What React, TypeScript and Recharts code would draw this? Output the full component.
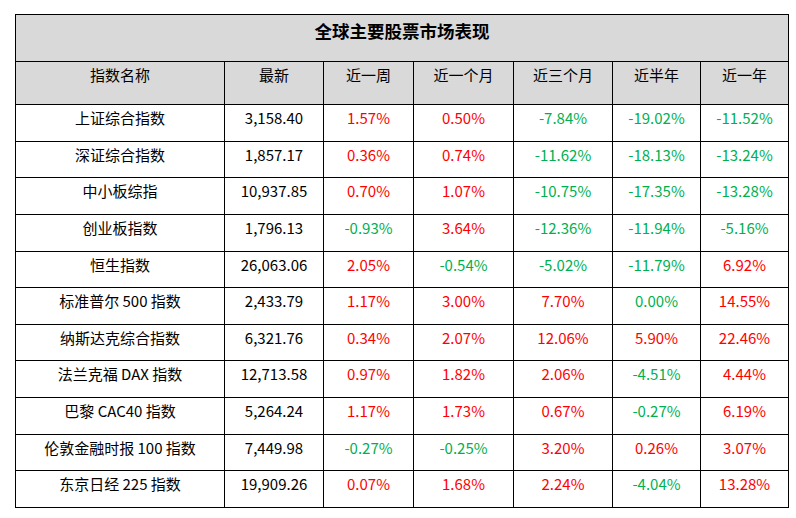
import { ScatterChart, Scatter, XAxis, YAxis } from 'recharts';

const title = '全球主要股票市场表现';
const headers = ['指数名称', '最新', '近一周', '近一个月', '近三个月', '近半年', '近一年'];
const names = [
  '上证综合指数',
  '深证综合指数',
  '中小板综指',
  '创业板指数',
  '恒生指数',
  '标准普尔 500 指数',
  '纳斯达克综合指数',
  '法兰克福 DAX 指数',
  '巴黎 CAC40 指数',
  '伦敦金融时报 100 指数',
  '东京日经 225 指数'
];
const latest = [3158.4, 1857.17, 10937.85, 1796.13, 26063.06, 2433.79, 6321.76, 12713.58, 5264.24, 7449.98, 19909.26];
const week = [1.57, 0.36, 0.7, -0.93, 2.05, 1.17, 0.34, 0.97, 1.17, -0.27, 0.07];
const month = [0.5, 0.74, 1.07, 3.64, -0.54, 3.0, 2.07, 1.82, 1.73, -0.25, 1.68];
const threeMonth = [-7.84, -11.62, -10.75, -12.36, -5.02, 7.7, 12.06, 2.06, 0.67, 3.2, 2.24];
const halfYear = [-19.02, -18.13, -17.35, -11.94, -11.79, 0.0, 5.9, -4.51, -0.27, 0.26, -4.04];
const year = [-11.52, -13.24, -13.28, -5.16, 6.92, 14.55, 22.46, 4.44, 6.19, 3.07, 13.28];

// layout
const W = 796;
const H = 518;
const colEdges = [15.5, 224.5, 323.5, 413.5, 513.5, 612.5, 700.5, 788.5];
const titleTop = 14.5;
const headerTop = 61.5;
const bodyTop = 104;
const rowH = 36.64;
const rowEdge = (i: number) => Math.round(bodyTop + i * rowH) + 0.5;
const RED = '#FF0000';
const GREEN = '#00B050';
const GRAY = '#D9D9D9';
const FONT = '"Noto Sans CJK SC", "Noto Sans", sans-serif';

const fmtPct = (v: number) => `${v.toFixed(2)}%`;
const fmtNum = (v: number) =>
  v.toLocaleString('en-US', { minimumFractionDigits: 2, maximumFractionDigits: 2 });

type Cell = {
  x: number;
  y: number;
  w: number;
  h: number;
  label: string;
  color: string;
  fill: string;
  bold?: boolean;
  fontSize: number;
  dy: number;
};

const cells: Cell[] = [];

// title row
cells.push({
  x: (colEdges[0] + colEdges[7]) / 2,
  y: (titleTop + headerTop) / 2,
  w: colEdges[7] - colEdges[0],
  h: headerTop - titleTop,
  label: title,
  color: '#000',
  fill: GRAY,
  bold: true,
  fontSize: 17.5,
  dy: 16
});

// header row
headers.forEach((hd, c) => {
  const top = headerTop;
  const bottom = rowEdge(0);
  cells.push({
    x: (colEdges[c] + colEdges[c + 1]) / 2,
    y: (top + bottom) / 2,
    w: colEdges[c + 1] - colEdges[c],
    h: bottom - top,
    label: hd,
    color: '#000',
    fill: GRAY,
    fontSize: 15,
    dy: 13
  });
});

// body rows
const pctCols = [week, month, threeMonth, halfYear, year];
names.forEach((name, r) => {
  const top = rowEdge(r);
  const bottom = rowEdge(r + 1);
  const row: { label: string; color: string }[] = [
    { label: name, color: '#000' },
    { label: fmtNum(latest[r]), color: '#000' },
    ...pctCols.map((arr) => ({ label: fmtPct(arr[r]), color: arr[r] > 0 ? RED : GREEN }))
  ];
  row.forEach((cell, c) => {
    cells.push({
      x: (colEdges[c] + colEdges[c + 1]) / 2,
      y: (top + bottom) / 2,
      w: colEdges[c + 1] - colEdges[c],
      h: bottom - top,
      label: cell.label,
      color: cell.color,
      fill: '#fff',
      fontSize: 15,
      dy: 13
    });
  });
});

const CellShape = (props: any) => {
  const { cx, cy, payload } = props;
  const p = payload as Cell;
  const left = cx - p.w / 2;
  const top = cy - p.h / 2;
  return (
    <g>
      <rect x={left} y={top} width={p.w} height={p.h} fill={p.fill} stroke="#000" strokeWidth={1} />
      <text
        x={cx}
        y={top + p.dy}
        textAnchor="middle"
        dominantBaseline="central"
        fill={p.color}
        fontSize={p.fontSize}
        fontWeight={p.bold ? 700 : 400}
        fontFamily={FONT}
      >
        {p.label}
      </text>
    </g>
  );
};

export default function App() {
  return (
    <div style={{ position: 'absolute', left: 0, top: 0, width: W, height: H, background: '#fff' }}>
      <ScatterChart width={W} height={H} margin={{ top: 0, right: 0, bottom: 0, left: 0 }}>
        <XAxis type="number" dataKey="x" domain={[0, W]} hide />
        <YAxis type="number" dataKey="y" domain={[0, H]} reversed hide />
        <Scatter data={cells} shape={CellShape} isAnimationActive={false} />
      </ScatterChart>
    </div>
  );
}
